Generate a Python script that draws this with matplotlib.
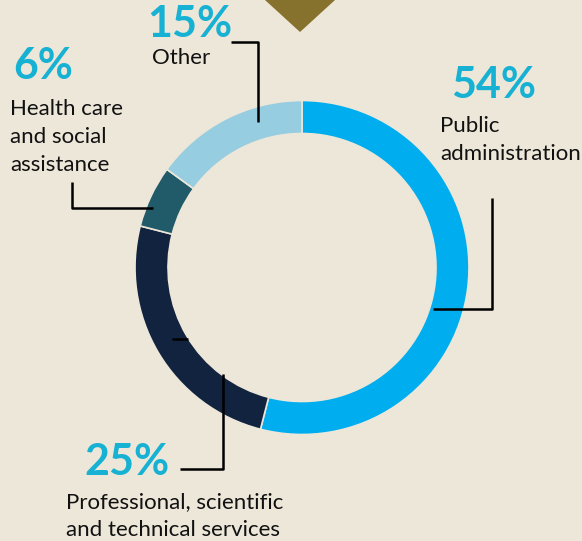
import matplotlib
matplotlib.use("Agg")
import matplotlib.pyplot as plt
from matplotlib.patches import Polygon

categories = ["Public administration", "Professional, scientific and technical services",
              "Health care and social assistance", "Other"]
values = [54, 25, 6, 15]
pct_labels = ["54%", "25%", "6%", "15%"]
name_labels = ["Public\nadministration", "Professional, scientific\nand technical services",
               "Health care\nand social\nassistance", "Other"]
colors = ["#00AEEF", "#12233F", "#215A69", "#97CDE0"]

BG = "#EDE7D9"
PCT_COLOR = "#17B1D3"
W, H = 582, 541

plt.rcParams['font.family'] = ['Lato', 'DejaVu Sans']

fig = plt.figure(figsize=(W / 100, H / 100), dpi=100, facecolor=BG)
ax = fig.add_axes([0, 0, 1, 1])
ax.set_facecolor(BG)

def Y(y):
    return H - y

ax.pie(values, colors=colors, startangle=90, counterclock=False,
       center=(302, Y(267.5)), radius=167,
       wedgeprops=dict(width=33, edgecolor=BG, linewidth=1.2))
ax.set_xlim(0, W)
ax.set_ylim(0, H)
ax.set_aspect('auto')
ax.axis('off')

# decorative triangle at top
ax.add_patch(Polygon([(265, Y(0)), (335, Y(0)), (300, Y(32))], closed=True,
                     facecolor="#86712D", edgecolor="none"))

lw = 1.8
def line(xs, ys):
    ax.plot(xs, [Y(v) for v in ys], color="black", lw=lw, solid_capstyle='butt')

# leader lines
line([231, 258, 258], [41.5, 41.5, 122])          # Other
line([72, 72, 153], [182, 208, 208])              # Health care
line([492, 492, 433], [198, 309, 309])            # Public administration
line([180, 223, 223], [469, 469, 374])            # Professional
line([172, 188], [339, 339])                      # small tick

pct_fs = 31
lab_fs = 16
ls = 1.48

# percentages (left x, vertical center)
ax.text(147, Y(24), pct_labels[3], fontsize=pct_fs, fontweight='bold', color=PCT_COLOR,
        ha='left', va='center')
ax.text(13, Y(66), pct_labels[2], fontsize=pct_fs, fontweight='bold', color=PCT_COLOR,
        ha='left', va='center')
ax.text(451, Y(85), pct_labels[0], fontsize=pct_fs, fontweight='bold', color=PCT_COLOR,
        ha='left', va='center')
ax.text(84, Y(462), pct_labels[1], fontsize=pct_fs, fontweight='bold', color=PCT_COLOR,
        ha='left', va='center')

# category labels
ax.text(152, Y(58), name_labels[3], fontsize=lab_fs, color="#111111",
        ha='left', va='center', linespacing=ls)
ax.text(10, Y(137), name_labels[2], fontsize=lab_fs, color="#111111",
        ha='left', va='center', linespacing=ls)
ax.text(440, Y(140), name_labels[0], fontsize=lab_fs, color="#111111",
        ha='left', va='center', linespacing=ls)
ax.text(66, Y(516), name_labels[1], fontsize=lab_fs, color="#111111",
        ha='left', va='center', linespacing=ls)

fig.savefig("out.png", dpi=100, facecolor=BG)
